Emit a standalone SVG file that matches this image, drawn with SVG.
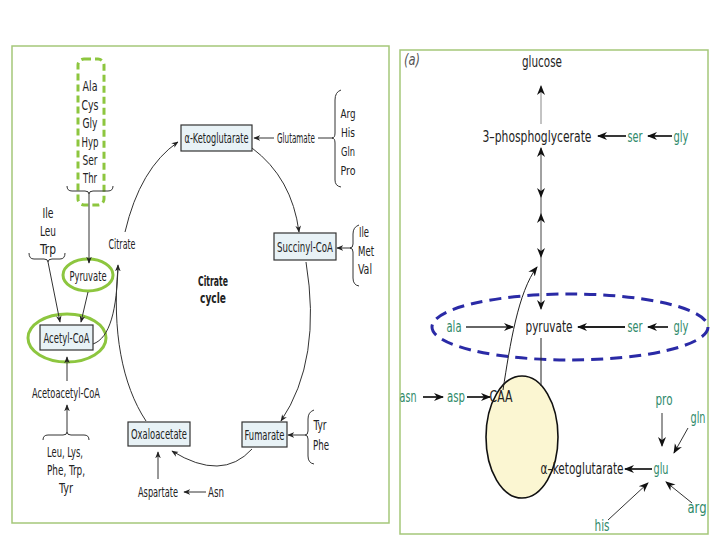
<svg xmlns="http://www.w3.org/2000/svg" width="720" height="540" viewBox="0 0 720 540">
<defs>
<marker id="ah" viewBox="0 0 10 10" refX="9" refY="5" markerWidth="7" markerHeight="7" orient="auto-start-reverse" markerUnits="userSpaceOnUse"><path d="M0,1 L10,5 L0,9 L3,5 z" fill="#222"/></marker>
<marker id="ahr" viewBox="0 0 10 10" refX="9" refY="5" markerWidth="10" markerHeight="10" orient="auto-start-reverse" markerUnits="userSpaceOnUse"><path d="M0,1 L10,5 L0,9 L3,5 z" fill="#111"/></marker>
<style>
text{font-family:"Liberation Sans Narrow","DejaVu Sans Condensed","Liberation Sans",Arial,sans-serif;font-size:14px;fill:#222;text-anchor:middle}
.r{font-size:15px}
.s{font-size:13px}
.g{fill:#2f8a6a}
.b{font-weight:bold}
.panel{fill:none;stroke:#a5c77a;stroke-width:1.5}
.box{fill:#e8f2f6;stroke:#333;stroke-width:1.2}
.ln{fill:none;stroke:#333;stroke-width:1}
.ra{fill:none;stroke:#222;stroke-width:1.8}
.gr{fill:none;stroke:#8dc63f;stroke-width:3}
</style>
</defs>
<rect width="720" height="540" fill="#fff"/>
<rect class="panel" x="12" y="46" width="377" height="477"/>
<rect class="panel" x="400" y="50" width="308" height="484"/>

<!-- Left panel nodes -->
<g id="aa-group1">
<rect x="78" y="59" width="26" height="146" rx="6" fill="none" stroke="#8dc63f" stroke-width="3" stroke-dasharray="7 4"/>
<text x="90" y="91" textLength="15" lengthAdjust="spacingAndGlyphs">Ala</text>
<text x="90" y="110" textLength="17" lengthAdjust="spacingAndGlyphs">Cys</text>
<text x="90" y="128" textLength="15" lengthAdjust="spacingAndGlyphs">Gly</text>
<text x="90" y="147" textLength="17" lengthAdjust="spacingAndGlyphs">Hyp</text>
<text x="90" y="165" textLength="15" lengthAdjust="spacingAndGlyphs">Ser</text>
<text x="90" y="183" textLength="14" lengthAdjust="spacingAndGlyphs">Thr</text>
<path class="ln" d="M67,186 Q67,191 72,191 L85,191 Q89,191 89,194 Q89,191 93,191 L108,191 Q113,191 113,186"/>
</g>
<g id="aa-group2">
<text x="48" y="218" textLength="11" lengthAdjust="spacingAndGlyphs">Ile</text>
<text x="48" y="236" textLength="16" lengthAdjust="spacingAndGlyphs">Leu</text>
<text x="48" y="254" textLength="16" lengthAdjust="spacingAndGlyphs">Trp</text>
<path class="ln" d="M29,253 Q29,259 34,259 L44,259 Q48,259 48,262 Q48,259 52,259 L60,259 Q65,259 65,253"/>
</g>
<g id="pyruvate-l">
<ellipse class="gr" cx="88" cy="275" rx="25" ry="16"/>
<text x="88" y="280.5" textLength="37" lengthAdjust="spacingAndGlyphs">Pyruvate</text>
</g>
<g id="citrate">
<text x="122" y="249" textLength="27" lengthAdjust="spacingAndGlyphs">Citrate</text>
</g>
<g id="acetyl-coa">
<ellipse class="gr" cx="67" cy="338" rx="39" ry="24"/>
<rect class="box" x="40" y="325" width="53" height="25"/>
<text x="66.5" y="342.5" textLength="46" lengthAdjust="spacingAndGlyphs">Acetyl-CoA</text>
</g>
<g id="acetoacetyl-coa">
<text x="66" y="398" textLength="68" lengthAdjust="spacingAndGlyphs">Acetoacetyl-CoA</text>
</g>
<g id="aa-group3">
<path class="ln" d="M43,440 Q43,435 48,435 L63,435 Q67,435 67,432 Q67,435 71,435 L84,435 Q89,435 89,440"/>
<text x="65" y="457" textLength="36" lengthAdjust="spacingAndGlyphs">Leu, Lys,</text>
<text x="66" y="475" textLength="38" lengthAdjust="spacingAndGlyphs">Phe, Trp,</text>
<text x="66" y="493" textLength="14" lengthAdjust="spacingAndGlyphs">Tyr</text>
</g>
<g id="akg-l">
<rect class="box" x="181" y="125" width="71" height="26"/>
<text x="216.5" y="143" textLength="64" lengthAdjust="spacingAndGlyphs">α-Ketoglutarate</text>
</g>
<g id="glutamate-l">
<text x="296" y="143" textLength="38" lengthAdjust="spacingAndGlyphs">Glutamate</text>
</g>
<g id="aa-group4">
<path class="ln" d="M341,90 Q335,92 335,100 L335,133 Q335,138 332,138 Q335,138 335,143 L335,180 Q335,186 341,187"/>
<text class="s" x="348" y="118" textLength="15" lengthAdjust="spacingAndGlyphs">Arg</text>
<text class="s" x="348" y="137" textLength="14" lengthAdjust="spacingAndGlyphs">His</text>
<text class="s" x="348" y="156" textLength="14" lengthAdjust="spacingAndGlyphs">Gln</text>
<text class="s" x="348" y="175" textLength="15" lengthAdjust="spacingAndGlyphs">Pro</text>
</g>
<g id="succinyl-coa">
<rect class="box" x="274" y="233" width="62" height="27"/>
<text x="305" y="252" textLength="56" lengthAdjust="spacingAndGlyphs">Succinyl-CoA</text>
</g>
<g id="aa-group5">
<path class="ln" d="M359,225 Q353,227 353,234 L353,244 Q353,248 350,248 Q353,248 353,252 L353,278 Q353,285 359,286"/>
<text x="364" y="237" textLength="10" lengthAdjust="spacingAndGlyphs">Ile</text>
<text x="366" y="256" textLength="16" lengthAdjust="spacingAndGlyphs">Met</text>
<text x="365" y="274" textLength="14" lengthAdjust="spacingAndGlyphs">Val</text>
</g>
<g id="cycle-label">
<text class="b" x="213" y="285.5" textLength="30" lengthAdjust="spacingAndGlyphs">Citrate</text>
<text class="b" x="213" y="302.5" textLength="26" lengthAdjust="spacingAndGlyphs">cycle</text>
</g>
<g id="fumarate">
<rect class="box" x="242" y="422" width="45" height="25"/>
<text x="264.5" y="440" textLength="40" lengthAdjust="spacingAndGlyphs">Fumarate</text>
</g>
<g id="aa-group6">
<path class="ln" d="M314,410 Q308,412 308,419 L308,431 Q308,435 305,435 Q308,435 308,439 L308,456 Q308,463 314,464"/>
<text x="320" y="430" textLength="13" lengthAdjust="spacingAndGlyphs">Tyr</text>
<text x="321" y="450" textLength="16" lengthAdjust="spacingAndGlyphs">Phe</text>
</g>
<g id="oxaloacetate">
<rect class="box" x="128" y="422" width="62" height="24"/>
<text x="159" y="439" textLength="56" lengthAdjust="spacingAndGlyphs">Oxaloacetate</text>
</g>
<g id="aspartate">
<text x="158" y="497" textLength="40" lengthAdjust="spacingAndGlyphs">Aspartate</text>
</g>
<g id="asn-l">
<text x="216" y="497" textLength="16" lengthAdjust="spacingAndGlyphs">Asn</text>
</g>

<!-- Right panel nodes -->
<g id="label-a"><text class="r" x="412" y="65" style="font-style:italic;fill:#555" textLength="16" lengthAdjust="spacingAndGlyphs">(a)</text></g>
<g id="glucose"><text class="r" x="542" y="67" textLength="40" lengthAdjust="spacingAndGlyphs">glucose</text></g>
<g id="pg3"><text class="r" x="537" y="142" textLength="109" lengthAdjust="spacingAndGlyphs">3–phosphoglycerate</text></g>
<g id="ser1"><text class="r g" x="635" y="142" textLength="15" lengthAdjust="spacingAndGlyphs">ser</text></g>
<g id="gly1"><text class="r g" x="681" y="142" textLength="15" lengthAdjust="spacingAndGlyphs">gly</text></g>
<g id="pyr-oval"><ellipse cx="570" cy="327" rx="138" ry="33" fill="none" stroke="#2a2aa6" stroke-width="3" stroke-dasharray="12 7"/></g>
<g id="ala"><text class="r g" x="454" y="332" textLength="15" lengthAdjust="spacingAndGlyphs">ala</text></g>
<g id="pyruvate-r"><text class="r" x="549" y="332" textLength="47" lengthAdjust="spacingAndGlyphs">pyruvate</text></g>
<g id="ser2"><text class="r g" x="635" y="332" textLength="15" lengthAdjust="spacingAndGlyphs">ser</text></g>
<g id="gly2"><text class="r g" x="681" y="332" textLength="15" lengthAdjust="spacingAndGlyphs">gly</text></g>
<g id="tca"><ellipse cx="522" cy="437" rx="36" ry="61" fill="#fbf6d2" stroke="#111" stroke-width="1.6"/></g>
<g id="asn-r"><text class="r g" x="408" y="402" textLength="17" lengthAdjust="spacingAndGlyphs">asn</text></g>
<g id="asp"><text class="r g" x="456" y="402" textLength="18" lengthAdjust="spacingAndGlyphs">asp</text></g>
<g id="caa"><text class="r" x="501" y="402" textLength="23" lengthAdjust="spacingAndGlyphs">CAA</text></g>
<g id="akg-r"><text class="r" x="582" y="474" textLength="83" lengthAdjust="spacingAndGlyphs">α–ketoglutarate</text></g>
<g id="glu"><text class="r g" x="661" y="474" textLength="15" lengthAdjust="spacingAndGlyphs">glu</text></g>
<g id="pro"><text class="r g" x="664" y="405" textLength="17" lengthAdjust="spacingAndGlyphs">pro</text></g>
<g id="gln"><text class="r g" x="698" y="423" textLength="15" lengthAdjust="spacingAndGlyphs">gln</text></g>
<g id="arg"><text class="r g" x="697" y="513" textLength="19" lengthAdjust="spacingAndGlyphs">arg</text></g>
<g id="his"><text class="r g" x="602" y="531" textLength="15" lengthAdjust="spacingAndGlyphs">his</text></g>

<!-- Connectors -->
<g id="connectors">
<path class="ln" d="M89,194 L89,263" marker-end="url(#ah)"/>
<path class="ln" d="M48,262 L60,322" marker-end="url(#ah)"/>
<path class="ln" d="M88,292 L81,322" marker-end="url(#ah)"/>
<path class="ln" d="M67,381 L67,357" marker-end="url(#ah)"/>
<path class="ln" d="M67,432 L67,405" marker-end="url(#ah)"/>
<path class="ln" d="M93,344 C110,338 117,310 118,265" marker-end="url(#ah)"/>
<path class="ln" d="M146,421 C122,385 112,330 118,268"/>
<path class="ln" d="M125,232 Q140,168 178,142" marker-end="url(#ah)"/>
<path class="ln" d="M252,148 Q292,178 299,232" marker-end="url(#ah)"/>
<path class="ln" d="M306,262 Q322,360 281,421" marker-end="url(#ah)"/>
<path class="ln" d="M252,449 Q222,482 172,451" marker-end="url(#ah)"/>
<path class="ln" d="M158,479 L158,452" marker-end="url(#ah)"/>
<path class="ln" d="M206,492 L184,492" marker-end="url(#ah)"/>
<path class="ln" d="M274,138 L254,138" marker-end="url(#ah)"/>
<path class="ln" d="M333,138 L318,138"/>
<path class="ln" d="M351,248 L337,248" marker-end="url(#ah)"/>
<path class="ln" d="M305,435 L288,435" marker-end="url(#ah)"/>

<path fill="none" stroke="#888" stroke-width="1" d="M541,124 L541,86" marker-end="url(#ahr)"/>
<path class="ra" d="M626,136 L598,136" marker-end="url(#ahr)"/>
<path class="ra" d="M672,136 L648,136" marker-end="url(#ahr)"/>
<path fill="none" stroke="#444" stroke-width="1" d="M541,148 L541,197" marker-start="url(#ahr)" marker-end="url(#ahr)"/>
<path fill="none" stroke="#444" stroke-width="1" d="M541,197 L541,214"/>
<path fill="none" stroke="#444" stroke-width="1" d="M541,214 L541,257" marker-start="url(#ahr)" marker-end="url(#ahr)"/>
<path fill="none" stroke="#444" stroke-width="1" d="M541,257 L541,309" marker-end="url(#ahr)"/>
<path fill="none" stroke="#222" stroke-width="1" d="M503,390 C510,345 518,292 537,267" marker-end="url(#ahr)"/>
<path fill="none" stroke="#222" stroke-width="1" d="M541,338 L541,386"/>
<path fill="none" stroke="#666" stroke-width="1.8" d="M466,327 L513,327" marker-end="url(#ahr)"/>
<path class="ra" d="M625,327 L578,327" marker-end="url(#ahr)"/>
<path class="ra" d="M668,327 L648,327" marker-end="url(#ahr)"/>
<path class="ra" d="M423,397 L443,397" marker-end="url(#ahr)"/>
<path class="ra" d="M467,397 L490,397" marker-end="url(#ahr)"/>
<path class="ra" d="M652,469 L625,469" marker-end="url(#ahr)"/>
<path fill="none" stroke="#333" stroke-width="1" d="M662,413 L662,446" marker-end="url(#ahr)"/>
<path fill="none" stroke="#333" stroke-width="1" d="M688,428 L674,453" marker-end="url(#ahr)"/>
<path fill="none" stroke="#333" stroke-width="1" d="M692,503 L666,482" marker-end="url(#ahr)"/>
<path fill="none" stroke="#333" stroke-width="1" d="M608,520 L648,483" marker-end="url(#ahr)"/>
</g>
</svg>
